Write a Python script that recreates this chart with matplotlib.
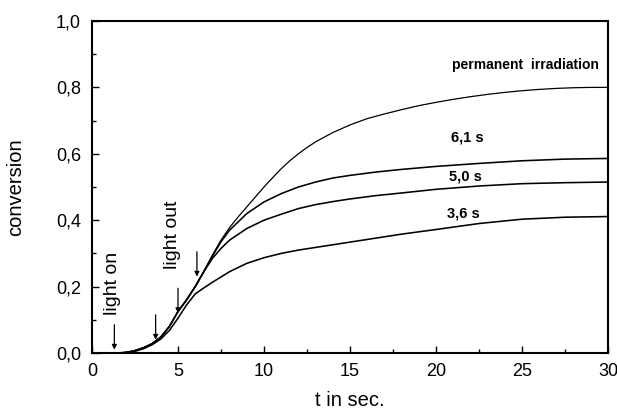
import matplotlib
matplotlib.use("Agg")
import matplotlib.pyplot as plt
from matplotlib.ticker import MultipleLocator, FuncFormatter

plt.rcParams['font.family'] = ['Liberation Sans', 'DejaVu Sans']

# ---- data ----
t_perm = [0, 1.5, 2, 2.5, 3, 3.5, 4, 4.5, 5, 5.5, 6, 6.5, 7, 7.5, 8, 8.5, 9, 9.5, 10, 10.5, 11, 11.5, 12, 12.5, 13, 14, 15, 16, 17, 18, 19, 20, 21, 22, 23, 24, 25, 26, 27, 28, 29, 30]
conv_perm = [0, 0, 0.002, 0.007, 0.016, 0.028, 0.048, 0.08, 0.125, 0.16, 0.2, 0.245, 0.295, 0.34, 0.378, 0.41, 0.44, 0.47, 0.5, 0.528, 0.555, 0.579, 0.6, 0.619, 0.636, 0.664, 0.687, 0.706, 0.72, 0.733, 0.745, 0.755, 0.764, 0.772, 0.779, 0.785, 0.79, 0.794, 0.797, 0.799, 0.80, 0.80]

t_61 = [0, 1.5, 2, 2.5, 3, 3.5, 4, 4.5, 5, 5.5, 6, 6.5, 7, 7.5, 8, 9, 10, 11, 12, 13, 14, 15, 16.5, 18, 20, 22.5, 25, 27.5, 30]
conv_61 = [0, 0, 0.002, 0.007, 0.016, 0.028, 0.048, 0.08, 0.125, 0.16, 0.2, 0.245, 0.292, 0.335, 0.37, 0.42, 0.455, 0.48, 0.5, 0.515, 0.527, 0.535, 0.545, 0.553, 0.562, 0.571, 0.579, 0.584, 0.586]

t_50 = [0, 1.5, 2, 2.5, 3, 3.5, 4, 4.5, 5, 5.5, 6, 6.5, 7, 7.5, 8, 9, 10, 11, 12, 13, 14, 15, 16.5, 18, 20, 22.5, 25, 27.5, 30]
conv_50 = [0, 0, 0.002, 0.007, 0.016, 0.028, 0.048, 0.08, 0.125, 0.16, 0.2, 0.245, 0.285, 0.315, 0.34, 0.375, 0.4, 0.418, 0.435, 0.447, 0.456, 0.464, 0.474, 0.482, 0.493, 0.503, 0.51, 0.513, 0.515]

t_36 = [0, 1.5, 2, 2.5, 3, 3.5, 4, 4.5, 5, 5.5, 6, 6.5, 7, 8, 9, 10, 11, 12, 13, 14, 15, 16.5, 18, 20, 22.5, 25, 27.5, 30]
conv_36 = [0, 0, 0.001, 0.005, 0.013, 0.025, 0.042, 0.068, 0.105, 0.145, 0.178, 0.196, 0.213, 0.245, 0.27, 0.287, 0.3, 0.31, 0.318, 0.326, 0.334, 0.346, 0.358, 0.372, 0.39, 0.403, 0.409, 0.411]

series_labels = ["permanent  irradiation", "6,1 s", "5,0 s", "3,6 s"]

arrow_times = [1.3, 3.7, 5.0, 6.1]
arrow_tips = [0.01, 0.04, 0.12, 0.23]

x_ticks = [0, 5, 10, 15, 20, 25, 30]
y_ticks = [0.0, 0.2, 0.4, 0.6, 0.8, 1.0]

# ---- figure ----
fig = plt.figure(figsize=(6.17, 4.15), dpi=100)
ax = fig.add_axes([92/617, 62/415, 516/617, 332/415])

ax.plot(t_perm, conv_perm, color='black', lw=0.9)
for t, c in [(t_61, conv_61), (t_50, conv_50), (t_36, conv_36)]:
    ax.plot(t, c, color='black', lw=1.15)

ax.set_xlim(0, 30)
ax.set_ylim(0, 1.0)
ax.set_xticks(x_ticks)
ax.set_yticks(y_ticks)
ax.xaxis.set_minor_locator(MultipleLocator(2.5))
ax.yaxis.set_minor_locator(MultipleLocator(0.1))
ax.xaxis.set_major_formatter(FuncFormatter(lambda v, p: f"{v:g}"))
ax.yaxis.set_major_formatter(FuncFormatter(lambda v, p: f"{v:.1f}".replace('.', ',')))
ax.tick_params(which='both', direction='in', width=1.0, labelsize=13)
ax.tick_params(which='major', length=5)
ax.tick_params(which='minor', length=3)
ax.tick_params(axis='y', pad=8)
ax.tick_params(axis='x', pad=7)
for s in ax.spines.values():
    s.set_linewidth(1.5)

ax.set_xlabel("t in sec.", fontsize=14.5, labelpad=8)
ax.set_ylabel("conversion", fontsize=14.5, labelpad=22)

# curve labels
ax.text(25.2, 0.867, series_labels[0], fontsize=10, fontweight='bold', ha='center', va='center')
ax.text(21.8, 0.65, series_labels[1], fontsize=10.5, fontweight='bold', ha='center', va='center')
ax.text(21.7, 0.533, series_labels[2], fontsize=10.5, fontweight='bold', ha='center', va='center')
ax.text(21.6, 0.419, series_labels[3], fontsize=10.5, fontweight='bold', ha='center', va='center')

# light on / out
ax.text(1.2, 0.21, "light on", rotation=90, fontsize=14, ha='center', va='center')
ax.text(4.7, 0.355, "light out", rotation=90, fontsize=14, ha='center', va='center')

for at, tip in zip(arrow_times, arrow_tips):
    ax.annotate("", xy=(at, tip), xytext=(at, tip + 0.075),
                arrowprops=dict(arrowstyle='-|>', color='black', lw=0.9,
                                mutation_scale=7, shrinkA=0, shrinkB=0))

fig.savefig("out.png", dpi=100)
